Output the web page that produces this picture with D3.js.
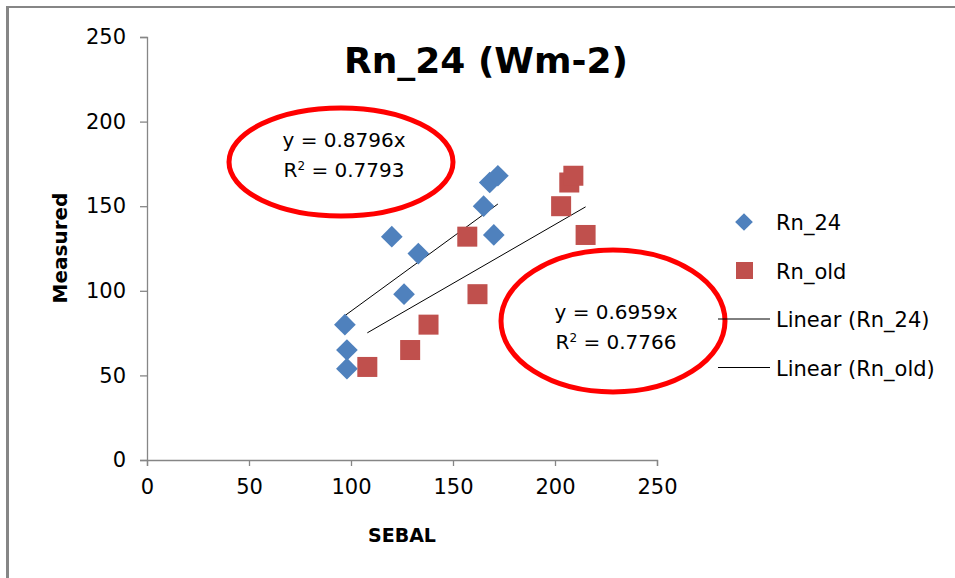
<!DOCTYPE html>
<html>
<head>
<meta charset="utf-8">
<script src="https://cdn.jsdelivr.net/npm/d3@7"></script>
<style>
  body { margin: 0; background: #fff; }
  text { font-family: "DejaVu Sans", sans-serif; }
</style>
</head>
<body>
<script>

// data
var rn24_x = [97, 98, 98, 120, 133, 126, 165, 168, 172, 170];
var rn24_y = [80, 65, 54, 132, 122, 98, 150, 164, 168, 133];
var rnold_x = [108, 129, 138, 162, 157, 203, 207, 209, 215];
var rnold_y = [55, 65, 80, 98, 132, 150, 164, 168, 133];
var slopes = [0.8796, 0.6959];
var r2 = [0.7793, 0.7766];
var ticks = [0, 50, 100, 150, 200, 250];
var seriesNames = ["Rn_24", "Rn_old"];

var W = 955, H = 578;

var svg = d3.select("body").append("svg")
    .attr("width", W)
    .attr("height", H);

// frame (only top and left edges show)
svg.append("line").attr("x1", 6).attr("x2", W).attr("y1", 7).attr("y2", 7)
    .attr("stroke", "#868686").attr("stroke-width", 2);
svg.append("line").attr("x1", 7.5).attr("x2", 7.5).attr("y1", 6).attr("y2", H)
    .attr("stroke", "#868686").attr("stroke-width", 3);

var x = d3.scaleLinear().domain([0, 250]).range([147, 657]);
var y = d3.scaleLinear().domain([0, 250]).range([460, 37]);

// axes
var xAxis = svg.append("g")
    .attr("transform", "translate(0," + y(0) + ")")
    .call(d3.axisBottom(x).tickValues(ticks).tickSize(6).tickPadding(13));
var yAxis = svg.append("g")
    .attr("transform", "translate(" + x(0) + ",0)")
    .call(d3.axisLeft(y).tickValues(ticks).tickSize(7).tickPadding(14));

[xAxis, yAxis].forEach(function (a) {
    a.select(".domain").attr("stroke", "#868686").attr("stroke-width", 1.3);
    a.selectAll(".tick line").attr("stroke", "#868686").attr("stroke-width", 1.3);
    a.selectAll(".tick text").attr("fill", "#000")
        .style("font-size", "21px").style("font-family", "'DejaVu Sans', sans-serif");
});

// title and axis titles
svg.append("text")
    .attr("x", 486).attr("y", 73)
    .attr("text-anchor", "middle")
    .style("font-size", "36px").style("font-weight", "bold")
    .text("Rn_24 (Wm-2)");

svg.append("text")
    .attr("x", 402).attr("y", 542)
    .attr("text-anchor", "middle")
    .style("font-size", "19px").style("font-weight", "bold")
    .text("SEBAL");

svg.append("text")
    .attr("transform", "translate(67,248)rotate(-90)")
    .attr("text-anchor", "middle")
    .style("font-size", "20px").style("font-weight", "bold")
    .text("Measured");

// trendlines (through origin, drawn over the x-range of each series)
var trends = [
    { xs: rn24_x, k: slopes[0] },
    { xs: rnold_x, k: slopes[1] }
];
trends.forEach(function (t) {
    var ext = d3.extent(t.xs);
    svg.append("line")
        .attr("x1", x(ext[0])).attr("y1", y(ext[0] * t.k))
        .attr("x2", x(ext[1])).attr("y2", y(ext[1] * t.k))
        .attr("stroke", "#000").attr("stroke-width", 1);
});

// points
var blue = "#4f81bd", red = "#c0504d";
var diamond = d3.symbol().type(d3.symbolDiamond2).size(300);

svg.append("g").selectAll("rect")
    .data(rnold_x.map(function (v, i) { return [v, rnold_y[i]]; }))
    .enter().append("rect")
    .attr("x", function (d) { return x(d[0]) - 10; })
    .attr("y", function (d) { return y(d[1]) - 10; })
    .attr("width", 20).attr("height", 20)
    .attr("fill", red);

svg.append("g").selectAll("path")
    .data(rn24_x.map(function (v, i) { return [v, rn24_y[i]]; }))
    .enter().append("path")
    .attr("d", diamond)
    .attr("transform", function (d) { return "translate(" + x(d[0]) + "," + y(d[1]) + ")"; })
    .attr("fill", blue);

// red ellipses with the regression labels
var notes = [
    { cx: 341, cy: 162, rx: 112, ry: 54, tx: 344, ty: 147, k: slopes[0], r: r2[0] },
    { cx: 613, cy: 321, rx: 112, ry: 71, tx: 616, ty: 319, k: slopes[1], r: r2[1] }
];
notes.forEach(function (n) {
    svg.append("ellipse")
        .attr("cx", n.cx).attr("cy", n.cy).attr("rx", n.rx).attr("ry", n.ry)
        .attr("fill", "none").attr("stroke", "#ff0000").attr("stroke-width", 5);
    svg.append("text")
        .attr("x", n.tx).attr("y", n.ty)
        .attr("text-anchor", "middle")
        .style("font-size", "20px")
        .text("y = " + n.k.toFixed(4) + "x");
    var t2 = svg.append("text")
        .attr("x", n.tx).attr("y", n.ty + 30)
        .attr("text-anchor", "middle")
        .style("font-size", "20px");
    t2.append("tspan").text("R");
    t2.append("tspan").attr("dy", -7).style("font-size", "12px").text("2");
    t2.append("tspan").attr("dy", 7).text(" = " + n.r.toFixed(4));
});

// legend
var leg = svg.append("g");
leg.append("path").attr("d", d3.symbol().type(d3.symbolDiamond2).size(200))
    .attr("transform", "translate(744,222)").attr("fill", blue);
leg.append("rect").attr("x", 736).attr("y", 262).attr("width", 17).attr("height", 17)
    .attr("fill", red);
var legRows = [seriesNames[0], seriesNames[1],
    "Linear (" + seriesNames[0] + ")", "Linear (" + seriesNames[1] + ")"];
legRows.forEach(function (s, i) {
    var yy = 222 + i * 48.5;
    leg.append("text")
        .attr("x", 776).attr("y", yy + 8)
        .style("font-size", "21px")
        .text(s);
    if (i >= 2) {
        leg.append("line")
            .attr("x1", 718).attr("x2", 770).attr("y1", yy).attr("y2", yy)
            .attr("stroke", "#000").attr("stroke-width", 1);
    }
});

</script>
</body>
</html>
